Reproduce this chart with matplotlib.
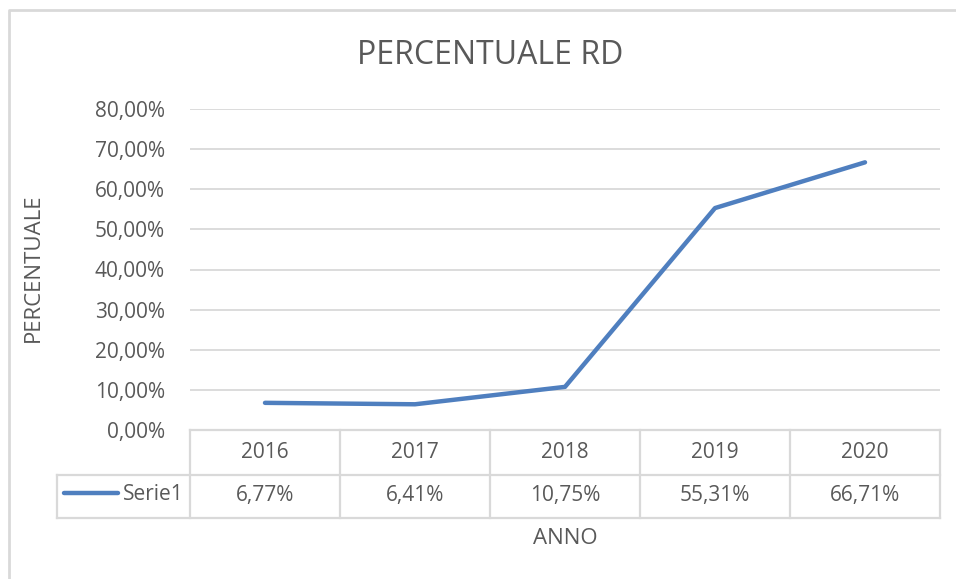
import numpy as np
import matplotlib.pyplot as plt
from matplotlib.lines import Line2D
from matplotlib.transforms import blended_transform_factory

years = ['2016', '2017', '2018', '2019', '2020']
values = [0.0677, 0.0641, 0.1075, 0.5531, 0.6671]
series_name = 'Serie1'

TXT = '#595959'
GRID = '#d9d9d9'
BLUE = '#4f7fbf'
plt.rcParams['font.family'] = ['Open Sans', 'DejaVu Sans']

W, H = 956, 579
fig = plt.figure(figsize=(W / 100, H / 100), dpi=100)

def fx(px):
    return px / W

def fy(py):
    return 1 - py / H

# plot area: x 190..940, y 109 (80%) .. 430 (0%)
ax = fig.add_axes([fx(190), fy(430), fx(940) - fx(190), fy(109) - fy(430)])
x = np.arange(len(years))
ax.plot(x, values, color=BLUE, lw=3.2, solid_capstyle='round', solid_joinstyle='round')
ax.set_xlim(-0.5, len(years) - 0.5)
ax.set_ylim(0, 0.8)
ticks = np.arange(0, 0.81, 0.1)
ax.set_yticks(ticks)
ax.set_yticklabels([f'{t * 100:.2f}%'.replace('.', ',') for t in ticks], color=TXT, fontsize=15)
ax.tick_params(axis='y', length=0, pad=18)
ax.set_xticks([])
ax.grid(axis='y', color=GRID, lw=1.3)
for s in ax.spines.values():
    s.set_visible(False)

# data table below the axis
trans = fig.transFigure
def hline(x0, x1, y):
    fig.add_artist(Line2D([fx(x0), fx(x1)], [fy(y), fy(y)], transform=trans, color=GRID, lw=1.6))

def vline(xp, y0, y1):
    fig.add_artist(Line2D([fx(xp), fx(xp)], [fy(y0), fy(y1)], transform=trans, color=GRID, lw=1.6))

hline(190, 940, 430)
hline(57, 940, 475)
hline(57, 940, 518)
vline(57, 475, 518)
for i in range(len(years) + 1):
    vline(190 + 150 * i, 430, 518)

bt = blended_transform_factory(ax.transData, trans)
for i, (yr, v) in enumerate(zip(years, values)):
    fig.text(i, fy(453), yr, transform=bt, ha='center', va='center', color=TXT, fontsize=15)
    fig.text(i, fy(496), f'{v * 100:.2f}%'.replace('.', ','), transform=bt,
             ha='center', va='center', color=TXT, fontsize=15)

fig.add_artist(Line2D([fx(64), fx(118)], [fy(493), fy(493)], transform=trans,
                      color=BLUE, lw=3.2, solid_capstyle='round'))
fig.text(fx(184), fy(494), series_name, ha='right', va='center', color=TXT, fontsize=15)

# titles
fig.text(fx(490), fy(56), 'PERCENTUALE RD', ha='center', va='center', color=TXT, fontsize=23)
fig.text(fx(565), fy(539), 'ANNO', ha='center', va='center', color=TXT, fontsize=16)
fig.text(fx(33), fy(268), 'PERCENTUALE', ha='center', va='center', rotation=90, color=TXT, fontsize=16)

# chart border
fig.add_artist(Line2D([fx(9), fx(9), fx(956)], [fy(579), fy(10), fy(10)], transform=trans,
                      color=GRID, lw=2))

fig.savefig('out.png', dpi=100, facecolor='white')
